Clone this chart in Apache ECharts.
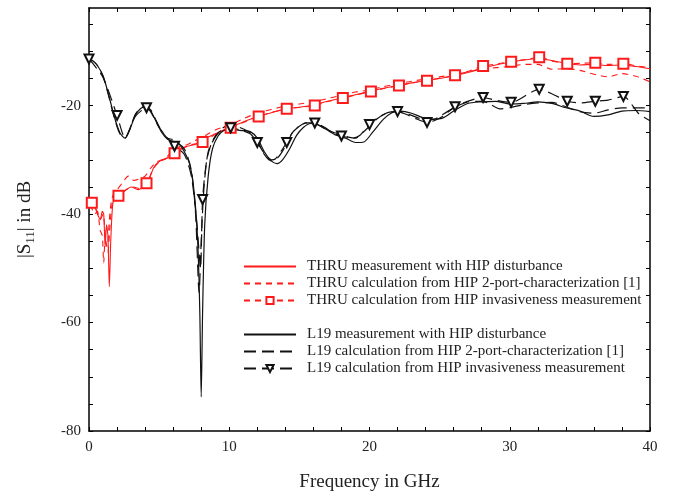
<!DOCTYPE html>
<html>
<head>
<meta charset="utf-8">
<script src="https://cdn.jsdelivr.net/npm/echarts@6/dist/echarts.min.js"></script>
<style>
html,body{margin:0;padding:0;background:#fff;}
#chart{width:674px;height:491px;}
</style>
</head>
<body>
<div id="chart"></div>
<script>
// ---- data (frequency in GHz, |S11| in dB) ----
const thruMeasFreq = [0,0.2,0.4,0.6,0.8,0.95,1.05,1.15,1.25,1.35,1.45,1.55,1.7,1.9,2.1,2.5,3.0,3.5,4.0,4.3,4.6,5.0,5.5,6.0,6.5,7.0,7.5,8.0,8.5,9.0,9.5,10,11,12,13,14,15,16,17,18,19,20,21,22,23,24,25,26,27,28,29,30,31,32,33,34,35,36,37,38,39,40];
const thruMeasDb   = [-38,-37.5,-38.5,-40,-41,-39.5,-40,-46,-42,-44,-53.4,-45,-38,-37,-36.4,-35.8,-35,-35.5,-34.6,-33.5,-31.5,-30.3,-29.8,-28.8,-28,-27.5,-27.2,-26.7,-25.8,-25.2,-24.6,-24.1,-23,-22,-21.3,-20.6,-20.3,-19.9,-19.2,-18.6,-18,-17.4,-16.8,-16.3,-15.8,-15.4,-15,-14.5,-13.9,-13.1,-12.5,-12.0,-11.6,-11.3,-11.7,-12.2,-12.5,-12.4,-12.6,-12.5,-12.8,-13.2];

const thru2pFreq = [0,0.2,0.4,0.6,0.8,0.95,1.05,1.15,1.3,1.45,1.6,1.8,2.0,2.4,2.8,3.2,3.6,4.0,4.4,4.8,5.2,5.6,6.0,6.5,7.0,7.5,8.0,8.5,9,9.5,10,11,12,13,14,15,16,17,18,19,20,21,22,23,24,25,26,27,28,29,30,31,32,33,34,35,36,37,38,39,40];
const thru2pDb   = [-38.5,-39,-40,-39.5,-43,-44,-49,-45,-46,-41,-37.5,-36,-35.5,-34.2,-33,-33.8,-33.5,-33,-31.5,-30.4,-30,-29.3,-28.2,-27.5,-27.2,-26.5,-26,-25.2,-24.5,-24,-23.7,-22.4,-21.4,-20.7,-20.1,-19.7,-19.3,-18.7,-18.1,-17.5,-17.1,-16.5,-16.0,-15.5,-15.1,-14.7,-14.3,-13.8,-13.3,-13.0,-12.8,-12.4,-12.4,-13.3,-13.2,-13.5,-14.2,-14.7,-14.1,-14.6,-15.6];

const thruInvFreq = [0,0.2,0.5,0.8,1.0,1.2,1.35,1.5,1.7,2.1,2.6,3.1,3.6,4.1,4.6,5.1,5.6,6.1,7.1,8.1,9.1,10.1,11.1,12.1,13.1,14.1,15.1,16.1,17.1,18.1,19.1,20.1,21.1,22.1,23.1,24.1,25.1,26.1,27.1,28.1,29.1,30.1,31.1,32.1,33.1,34.1,35.1,36.1,37.1,38.1,39.1,40];
const thruInvDb   = [-38,-37.9,-39,-41,-40,-45,-47,-42,-37.5,-36.6,-35.6,-35,-35.3,-34.3,-31.6,-30.2,-29.6,-28.8,-27.4,-26.7,-25.2,-24.1,-23,-22.0,-21.2,-20.6,-20.3,-20.0,-19.2,-18.6,-18,-17.4,-16.8,-16.3,-15.8,-15.4,-14.9,-14.4,-13.6,-12.7,-12.3,-11.9,-11.5,-11.1,-11.8,-12.3,-12.2,-12.1,-12.4,-12.3,-12.7,-13.0];
const thruInvMarkers = [0.2,2.1,4.1,6.1,8.1,10.1,12.1,14.1,16.1,18.1,20.1,22.1,24.1,26.1,28.1,30.1,32.1,34.1,36.1,38.1];

const l19MeasFreq = [0,0.3,0.6,1.0,1.4,1.8,2.2,2.57,2.9,3.3,3.7,4.0,4.4,4.8,5.2,5.6,6.0,6.4,6.8,7.2,7.5,7.75,7.9,8.0,8.1,8.25,8.5,8.8,9.2,9.6,10,10.5,11,11.5,12,12.5,13,13.4,13.8,14.3,14.8,15.3,15.8,16.3,16.8,17.5,18.3,19,19.6,20.2,21,21.6,22.2,23,23.8,24.5,25.2,26,27,28,29,30,31,32,33,34,35,36,37,38,39,40];
const l19MeasDb   = [-11.3,-11.8,-12.6,-14.5,-18,-22,-25,-26,-24.5,-21.8,-20.5,-20.3,-21,-23,-25,-26.2,-26.6,-27,-28.5,-31,-36,-45,-58,-73.7,-58,-42,-33,-28,-25.6,-24.6,-24.3,-24.5,-24.6,-24.8,-26,-28.5,-30.2,-30.7,-30,-28,-25.5,-24,-23.3,-23.5,-24.2,-25.3,-26,-26.8,-26.7,-25,-22.5,-21.3,-21,-21.4,-22.2,-22.5,-22.3,-21,-19.6,-19.3,-19.2,-19.7,-19.6,-19.3,-19.6,-20.4,-21,-22,-21.7,-21,-20.9,-21.1];

const l192pFreq = [0,0.3,0.6,1.0,1.4,1.8,2.2,2.57,2.9,3.3,3.7,4.0,4.4,4.8,5.2,5.6,6.0,6.8,7.3,7.6,7.85,8.0,8.2,8.5,9,9.5,10,10.5,11,11.5,12,12.5,13,13.5,14,14.5,15,15.5,16,16.5,17,17.5,18,18.5,19,19.5,20,20.5,21,21.5,22,22.5,23,23.5,24,24.5,25,25.5,26,26.5,27,28,28.5,29.3,30,31,32,33,34,35,36,37,38,39,40];
const l192pDb   = [-11.3,-11.8,-12.6,-14.6,-18.2,-22.2,-25.2,-26,-24.4,-21.6,-20.4,-20.2,-20.8,-22.8,-24.8,-26,-26.3,-28,-32,-40,-54.5,-45,-35,-28.5,-25.8,-24.2,-23.6,-23.8,-24.3,-25,-26.5,-29,-30.2,-29.5,-27.5,-25,-23.8,-23.2,-23.2,-23.8,-24.5,-25,-25.3,-25.8,-26,-25,-23.8,-22.5,-21.7,-21.2,-21,-21.3,-21.8,-22.3,-22.6,-22.6,-22,-21.2,-20.4,-19.8,-19.3,-19.2,-19.6,-20.6,-20.4,-19.8,-19.5,-19.4,-20.2,-21.1,-21.4,-20.8,-20.4,-20.4,-20.4];

const l19InvFreq = [0,1.0,2.0,2.57,3.3,4.1,5.0,5.6,6.1,6.8,7.3,7.7,7.95,8.1,8.4,8.8,9.3,10.1,10.8,11.5,12.0,12.5,13.0,13.3,14.1,14.5,15,15.5,16.1,16.8,17.4,18.0,18.8,19.3,20.0,20.6,21.3,22.0,22.6,23.3,24.1,24.6,25.2,26.1,27,28.1,29,30.1,32.1,33,34.1,35,36.1,37,38.1,39.2,40];
const l19InvDb   = [-11.4,-14.8,-21.8,-25.9,-22,-20.4,-24,-26,-27.5,-29,-33,-42,-50,-37.3,-30,-26.5,-24.8,-24.1,-24.5,-25.2,-26.8,-28.8,-30,-29.8,-26.8,-25,-23.8,-23.2,-23.2,-24,-25,-25.6,-26,-25.5,-23.5,-22.2,-21.3,-21.1,-21.6,-22.4,-23.1,-22.8,-22,-20.2,-19.2,-18.5,-19,-19.4,-17.0,-17.8,-19.2,-19.5,-19.2,-19,-18.3,-21.5,-22.8];
const l19InvMarkers = [0,2.0,4.1,6.1,8.1,10.1,12.0,14.1,16.1,18.0,20.0,22.0,24.1,26.1,28.1,30.1,32.1,34.1,36.1,38.1];

const seriesNames = [
  'THRU measurement with HIP disturbance',
  'THRU calculation from HIP 2-port-characterization [1]',
  'THRU calculation from HIP invasiveness measurement',
  'L19 measurement with HIP disturbance',
  'L19 calculation from HIP 2-port-characterization [1]',
  'L19 calculation from HIP invasiveness measurement'
];

// ---- build ----
function pts(f, v, marks) {
  return f.map((x, i) => {
    const it = { value: [x, v[i]] };
    if (marks && !marks.includes(x)) it.symbol = 'none';
    return it;
  });
}
const RED = '#ff1a1a';
const BLK = '#111111';
const FONT = 'Liberation Serif';

const frameAxisX = (pos, showLabel) => ({
  type: 'value', position: pos, min: 0, max: 40, interval: 2,
  axisLine: { show: true, onZero: false, lineStyle: { color: '#000', width: 1.5 } },
  axisTick: { show: true, inside: true, length: 4, lineStyle: { color: '#000', width: 1 } },
  splitLine: { show: false },
  axisLabel: { show: showLabel, margin: 9, fontFamily: FONT, fontSize: 15, color: '#222',
    formatter: v => (v % 10 === 0 ? String(v) : '') }
});
const frameAxisY = (pos, showLabel) => ({
  type: 'value', position: pos, min: -80, max: -2, interval: 5,
  axisLine: { show: true, onZero: false, lineStyle: { color: '#000', width: 1.5 } },
  axisTick: { show: true, inside: true, length: 4, lineStyle: { color: '#000', width: 1 } },
  splitLine: { show: false },
  axisLabel: { show: showLabel, margin: 8, fontFamily: FONT, fontSize: 15, color: '#222', showMaxLabel: false,
    formatter: v => (v % 20 === 0 ? String(v) : '') }
});

const xb = frameAxisX('bottom', true);
xb.name = 'Frequency in GHz'; xb.nameLocation = 'middle'; xb.nameGap = 42;
xb.nameTextStyle = { fontFamily: FONT, fontSize: 19, color: '#222' };
const yl = frameAxisY('left', true);
yl.name = '|S{s|11}| in dB'; yl.nameLocation = 'middle'; yl.nameGap = 52; yl.nameRotate = 90;
yl.nameTextStyle = { fontFamily: FONT, fontSize: 19, color: '#222',
  rich: { s: { fontFamily: FONT, fontSize: 13, color: '#222', verticalAlign: 'bottom', padding: [10, 0, 0, 0] } } };

const legendText = { fontFamily: FONT, fontSize: 15, lineHeight: 15, color: '#222', padding: [0, 0, 0, 6] };
const legendEntry = (name, marked) => marked ? { name } : { name, itemStyle: { opacity: 0 } };

const option = {
  animation: false,
  backgroundColor: '#fff',
  grid: { left: 89, right: 24, top: 8, bottom: 60, containLabel: false, outerBoundsMode: 'none' },
  xAxis: [xb, frameAxisX('top', false)],
  yAxis: [yl, frameAxisY('right', false)],
  legend: [
    { data: [legendEntry(seriesNames[0]), legendEntry(seriesNames[1]), legendEntry(seriesNames[2], true)],
      orient: 'vertical', left: 238, top: 254, itemWidth: 52, itemHeight: 9,
      itemGap: 2, textStyle: legendText },
    { data: [legendEntry(seriesNames[3]), legendEntry(seriesNames[4]), legendEntry(seriesNames[5], true)],
      orient: 'vertical', left: 238, top: 322, itemWidth: 52, itemHeight: 9,
      itemGap: 2, textStyle: legendText }
  ],
  series: [
    { name: seriesNames[0], type: 'line', data: pts(thruMeasFreq, thruMeasDb), symbol: 'none', smooth: 0.25,
      lineStyle: { color: RED, width: 1.1 }, itemStyle: { color: RED } },
    { name: seriesNames[1], type: 'line', data: pts(thru2pFreq, thru2pDb), symbol: 'none', smooth: 0.25,
      lineStyle: { color: RED, width: 1.1, type: [6, 5] }, itemStyle: { color: RED } },
    { name: seriesNames[2], type: 'line', data: pts(thruInvFreq, thruInvDb, thruInvMarkers), symbol: 'emptyRect', symbolSize: 10, smooth: 0.25,
      lineStyle: { color: RED, width: 1.1, type: [6, 5] }, itemStyle: { color: RED, borderWidth: 1 } },
    { name: seriesNames[3], type: 'line', data: pts(l19MeasFreq, l19MeasDb), symbol: 'none', smooth: 0.25,
      lineStyle: { color: BLK, width: 1.2 }, itemStyle: { color: BLK } },
    { name: seriesNames[4], type: 'line', data: pts(l192pFreq, l192pDb), symbol: 'none', smooth: 0.25,
      lineStyle: { color: BLK, width: 1.2, type: [12, 6] }, itemStyle: { color: BLK } },
    { name: seriesNames[5], type: 'line', data: pts(l19InvFreq, l19InvDb, l19InvMarkers), symbol: 'emptyTriangle', symbolRotate: 180, symbolSize: 9, smooth: 0.25,
      lineStyle: { color: BLK, width: 1.2, type: [12, 6] }, itemStyle: { color: BLK, borderWidth: 0.8 } }
  ]
};
const chart = echarts.init(document.getElementById('chart'), null, { renderer: 'canvas' });
chart.setOption(option);
</script>
</body>
</html>
